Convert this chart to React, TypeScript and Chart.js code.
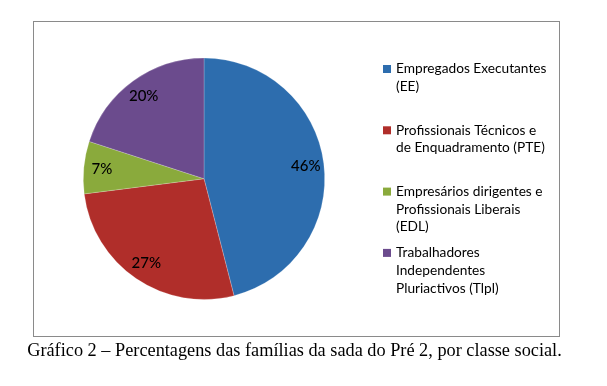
import React, { useEffect, useRef } from "react";
import { Chart, registerables } from "chart.js";

Chart.register(...registerables);

const categories: string[][] = [
  ["Empregados Executantes", "(EE)"],
  ["Profissionais Técnicos e", "de Enquadramento (PTE)"],
  ["Empresários dirigentes e", "Profissionais Liberais", "(EDL)"],
  ["Trabalhadores", "Independentes", "Pluriactivos (Tlpl)"],
];
const values = [46, 27, 7, 20];
const colors = ["#2D6DAE", "#B02E2A", "#8AAA3C", "#6B4B8D"];
const caption = "Gráfico 2 – Percentagens das famílias da sada do Pré 2, por classe social.";

const FONT = "Lato, 'Open Sans', sans-serif";

const labelPlugin = {
  id: "sliceLabels",
  afterDatasetsDraw(chart: any) {
    const ctx = chart.ctx;
    const meta = chart.getDatasetMeta(0);
    const data = chart.data.datasets[0].data as number[];
    const total = data.reduce((a, b) => a + b, 0);
    ctx.save();
    ctx.font = `500 15px ${FONT}`;
    ctx.fillStyle = "#000";
    ctx.textAlign = "center";
    ctx.textBaseline = "middle";
    meta.data.forEach((arc: any, i: number) => {
      const { x, y, startAngle, endAngle, outerRadius } = arc.getProps(
        ["x", "y", "startAngle", "endAngle", "outerRadius"],
        true
      );
      const mid = (startAngle + endAngle) / 2;
      const r = outerRadius * 0.85;
      const pct = Math.round((data[i] / total) * 100);
      ctx.fillText(pct + "%", x + Math.cos(mid) * r, y + Math.sin(mid) * r);
    });
    ctx.restore();
  },
};

const legendPlugin = {
  id: "sideLegend",
  afterDraw(chart: any) {
    const ctx = chart.ctx;
    const labels = chart.data.labels as string[][];
    const bg = chart.data.datasets[0].backgroundColor as string[];
    const x0 = 383;
    const y0 = 69;
    const itemGap = 61.3;
    const lineH = 17.7;
    ctx.save();
    ctx.font = `13.7px ${FONT}`;
    ctx.textBaseline = "middle";
    ctx.textAlign = "left";
    labels.forEach((lines, i) => {
      const y = y0 + i * itemGap;
      ctx.fillStyle = bg[i];
      ctx.fillRect(x0, y - 4, 8, 8);
      ctx.fillStyle = "#000";
      lines.forEach((ln, j) => {
        ctx.fillText(ln, x0 + 13, y + j * lineH);
      });
    });
    ctx.restore();
  },
};

export default function App() {
  const ref = useRef<HTMLCanvasElement | null>(null);
  useEffect(() => {
    if (!ref.current) return;
    const chart = new Chart(ref.current, {
      type: "pie",
      data: {
        labels: categories as any,
        datasets: [
          {
            data: values,
            backgroundColor: colors,
            borderColor: "rgba(255,255,255,0.35)",
            borderWidth: 0.6,
          },
        ],
      },
      options: {
        responsive: false,
        animation: false,
        layout: { padding: { left: 83, top: 57.5, right: 282, bottom: 86 } },
        plugins: {
          legend: { display: false },
          tooltip: { enabled: false },
          title: { display: false },
        },
      },
      plugins: [labelPlugin, legendPlugin],
    });
    return () => chart.destroy();
  }, []);

  return (
    <div style={{ position: "absolute", left: 0, top: 0, width: 607, height: 386, background: "#fff" }}>
      <div
        style={{
          position: "absolute",
          left: 32.5,
          top: 20.5,
          width: 527,
          height: 316,
          boxSizing: "border-box",
          border: "1.6px solid #8a8a8a",
        }}
      />
      <canvas ref={ref} width={607} height={386} style={{ position: "absolute", left: 0, top: 0 }} />
      <div
        style={{
          position: "absolute",
          left: 0,
          width: 589,
          top: 340,
          textAlign: "center",
          fontFamily: "'Liberation Serif', 'Times New Roman', serif",
          fontSize: 18.3,
          lineHeight: "21px",
          color: "#000",
          whiteSpace: "nowrap",
        }}
      >
        {caption}
      </div>
    </div>
  );
}
